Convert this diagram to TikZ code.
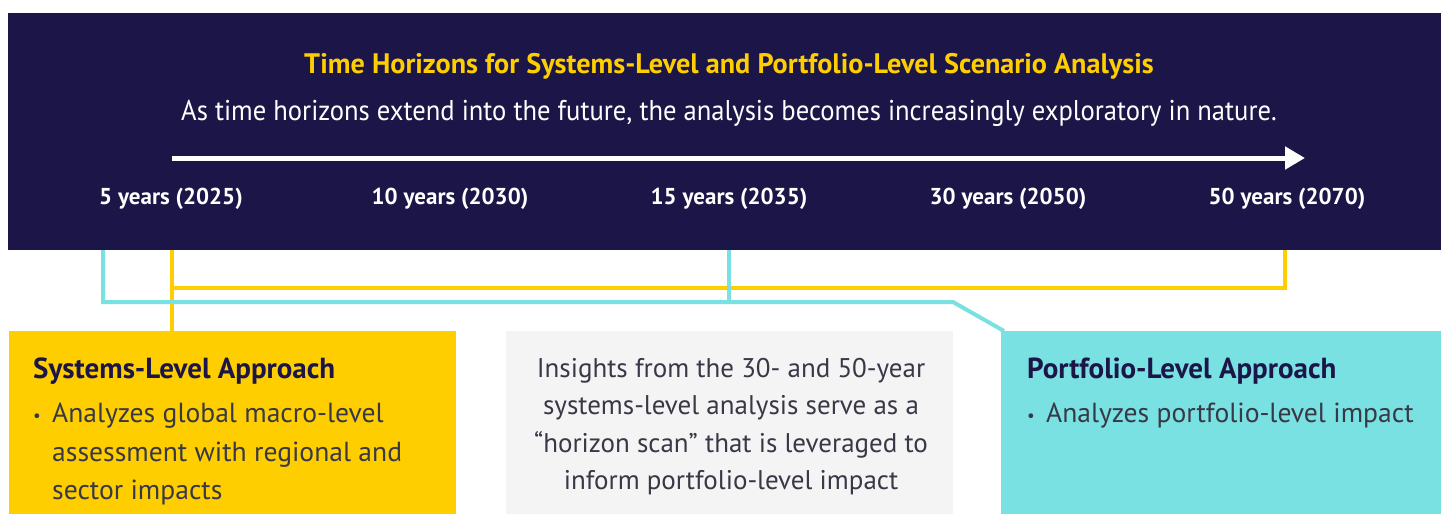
\documentclass[tikz,border=0pt]{standalone}
\usepackage{fontspec}
\setmainfont{PT Sans}
\newfontfamily\narrowf[FakeStretch=0.93]{PT Sans}
\usetikzlibrary{arrows.meta}
\definecolor{navy}{RGB}{28,21,71}
\definecolor{gold}{RGB}{255,206,0}
\definecolor{aqua}{RGB}{121,225,225}
\definecolor{paleg}{RGB}{244,244,244}
\definecolor{txtg}{RGB}{56,56,70}
\tikzset{
  yr/.style={text=white,font=\bfseries\fontsize{23}{27}\selectfont,inner sep=0pt},
  boxhead/.style={text=navy,font=\bfseries\fontsize{29}{33}\selectfont,inner sep=0pt,anchor=west},
  boxtxt/.style={text=txtg,font=\fontsize{27.6}{38.5}\selectfont,inner sep=0pt,align=left,anchor=north west},
  bul/.style={text=txtg,font=\fontsize{17}{20}\selectfont,inner sep=0pt},
  aqline/.style={draw=aqua,line width=4pt},
  goline/.style={draw=gold,line width=4pt},
}
\begin{document}
\begin{tikzpicture}[x=1pt,y=-1pt]
\useasboundingbox (0,0) rectangle (1441,514);
% band
\node[fill=navy,inner sep=0pt,minimum width=1433pt,minimum height=237pt,anchor=north west] (band) at (8,13) {};
\node[text=gold,font=\bfseries\fontsize{28.2}{32}\selectfont,inner sep=0pt] (title) at (729,66) {Time Horizons for Systems-Level and Portfolio-Level Scenario Analysis};
\node[text=white,font=\narrowf\fontsize{28.6}{32}\selectfont,inner sep=0pt] (sub) at (729,113) {As time horizons extend into the future, the analysis becomes increasingly exploratory in nature.};
\coordinate (arS) at (172,158);
\coordinate (arE) at (1305,158);
\draw[white,line width=5pt,-{Triangle[length=20pt,width=22pt]}] (arS) -- (arE);
\node[yr] (y5) at (171,199) {5 years (2025)};
\node[yr] (y10) at (450,199) {10 years (2030)};
\node[yr] (y15) at (729,199) {15 years (2035)};
\node[yr] (y30) at (1008,199) {30 years (2050)};
\node[yr] (y50) at (1287,199) {50 years (2070)};
% boxes
\node[fill=gold,inner sep=0pt,minimum width=447pt,minimum height=183pt,anchor=north west] (sys) at (9,331) {};
\node[fill=paleg,inner sep=0pt,minimum width=447pt,minimum height=183pt,anchor=north west] (ins) at (506,331) {};
\node[fill=aqua,inner sep=0pt,minimum width=440pt,minimum height=183pt,anchor=north west] (port) at (1001,331) {};
% connectors
\coordinate (a1) at (103,250);
\coordinate (a2) at (103,302);
\coordinate (a3) at (729,250);
\coordinate (a4) at (729,302);
\coordinate (a5) at (953,302);
\coordinate (a6) at (1004,331);
\coordinate (g1) at (172,250);
\coordinate (g2) at (172,288);
\coordinate (g3) at (1285,288);
\coordinate (g4) at (1285,250);
\coordinate (g5) at (172,331);
\draw[goline] (g1) -- (g5);
\draw[goline] (g2) -- (g3) -- (g4);
\draw[aqline,line join=miter] (a1) -- (a2) -- (a5) -- (a6);
\draw[aqline] (a3) -- (a4);
% box texts
\node[boxhead] (sysh) at (33,371) {Systems-Level Approach};
\node[bul] (sysb) at (37,418) {\textbullet};
\node[boxtxt] (syst) at (52,403) {Analyzes global macro-level\\assessment with regional and\\sector impacts};
\node[text=txtg,font=\fontsize{27}{37.5}\selectfont,inner sep=0pt,align=center,anchor=north] (inst) at (731,358) {Insights from the 30- and 50-year\\systems-level analysis serve as a\\“horizon scan” that is leveraged to\\inform portfolio-level impact};
\node[boxhead] (porth) at (1027,371) {Portfolio-Level Approach};
\node[bul] (portb) at (1031,418) {\textbullet};
\node[boxtxt] (portt) at (1046,403) {Analyzes portfolio-level impact};
\end{tikzpicture}
\end{document}
